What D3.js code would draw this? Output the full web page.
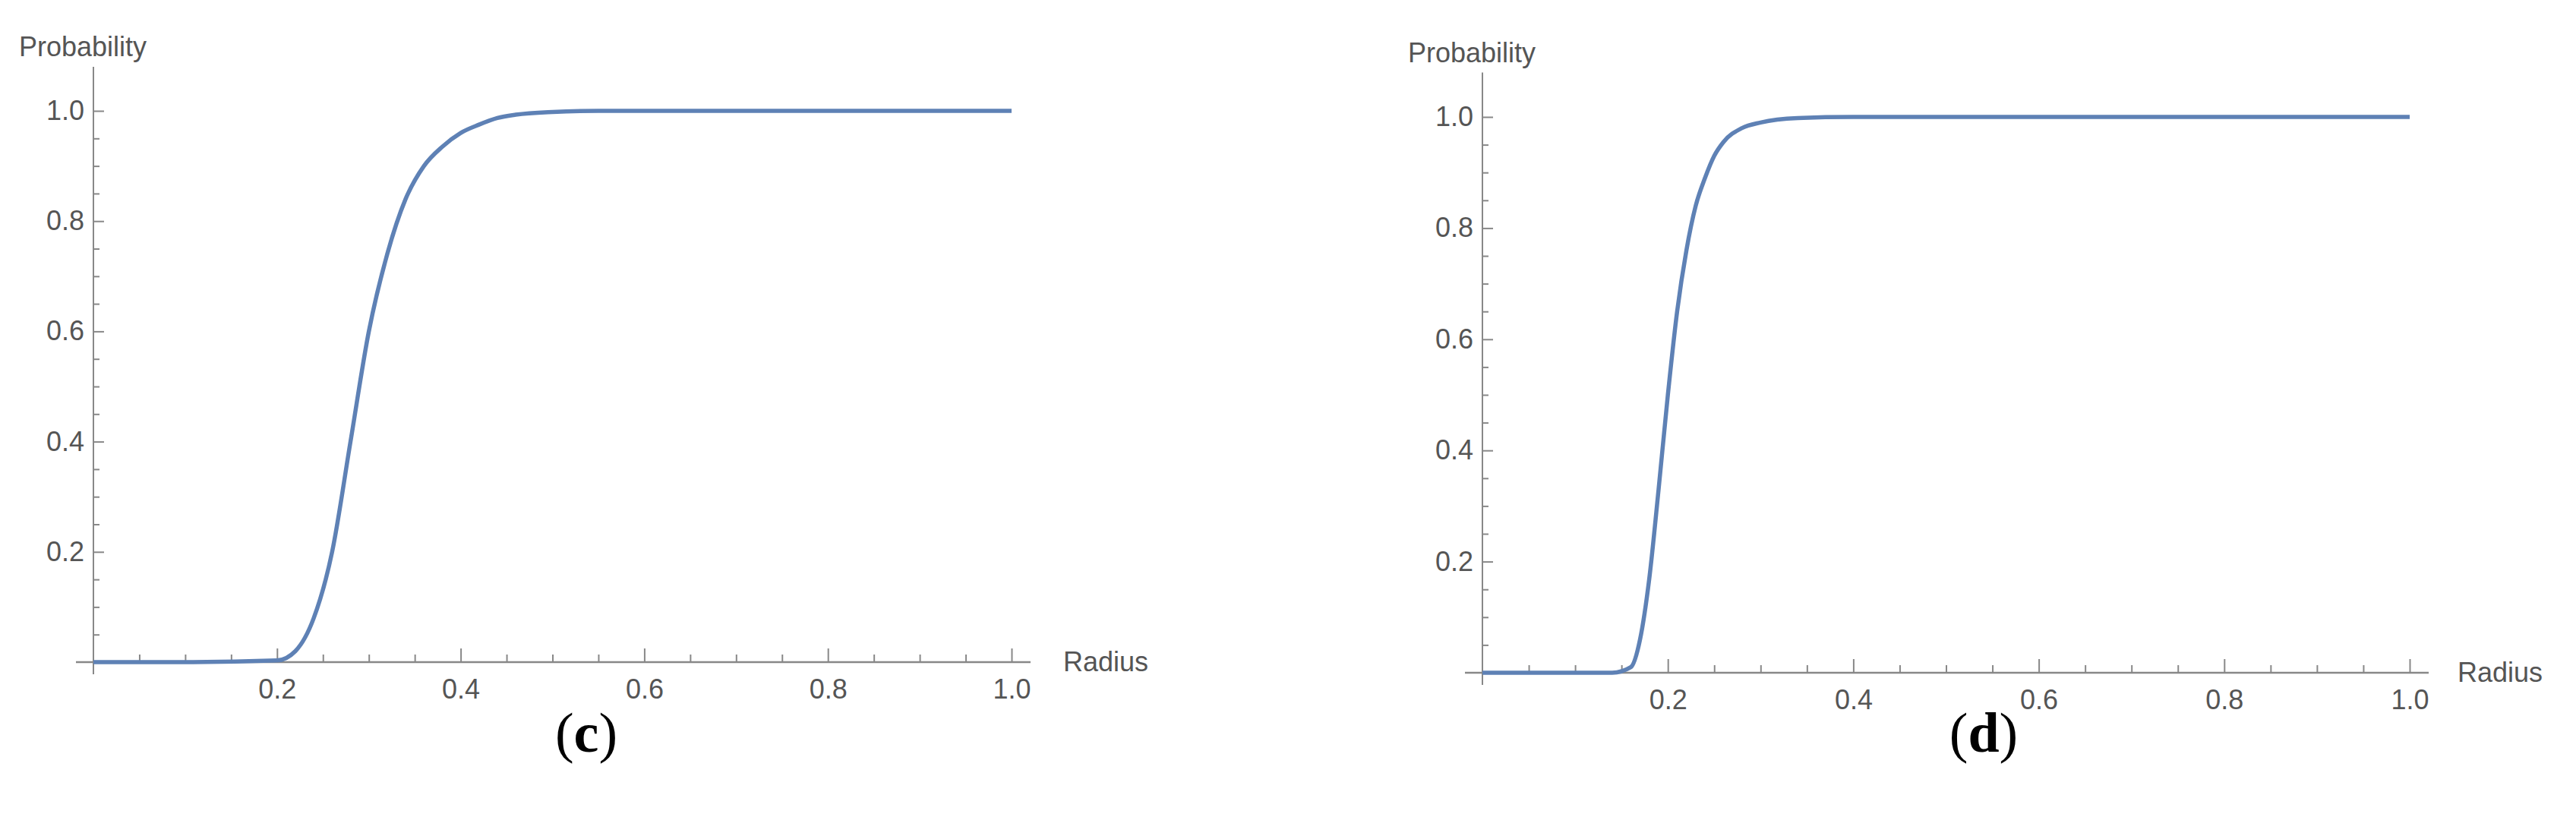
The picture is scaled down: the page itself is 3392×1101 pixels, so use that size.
<!DOCTYPE html>
<html>
<head>
<meta charset="utf-8">
<script src="https://cdn.jsdelivr.net/npm/d3@7"></script>
<style>
  body { margin: 0; background: #fff; }
  .tick text { font-family: "Liberation Sans", Arial, sans-serif; fill: #555; }
</style>
</head>
<body>
<div id="chart"></div>
<script>
// curve (c)
var radiusC = [0, 0.1, 0.2, 0.22, 0.24, 0.26, 0.28, 0.30, 0.32, 0.34, 0.36, 0.38, 0.40, 0.42, 0.44, 0.46, 0.50, 0.55, 0.6, 0.8, 1.0];
var probC   = [0, 0, 0.003, 0.02, 0.08, 0.2, 0.4, 0.6, 0.74, 0.84, 0.9, 0.935, 0.96, 0.975, 0.987, 0.993, 0.998, 1, 1, 1, 1];
// curve (d)
var radiusD = [0, 0.1, 0.14, 0.16, 0.17, 0.18, 0.19, 0.20, 0.21, 0.22, 0.23, 0.24, 0.25, 0.26, 0.28, 0.30, 0.34, 0.4, 0.6, 0.8, 1.0];
var probD   = [0, 0, 0, 0.01, 0.06, 0.17, 0.33, 0.5, 0.65, 0.76, 0.84, 0.89, 0.93, 0.955, 0.98, 0.99, 0.998, 1, 1, 1, 1];
var majorTicks = [0.2, 0.4, 0.6, 0.8, 1.0];
var panels = [
    {label: "c", r: radiusC, p: probC, x0: 123, x1: 1332, y0: 872, y1: 146, cap: 772, rx: 1400},
    {label: "d", r: radiusD, p: probD, x0: 1952, x1: 3173, y0: 886, y1: 154, cap: 2612, rx: 3236}
];

var svg = d3.select("#chart").append("svg")
        .attr("width", 3392)
        .attr("height", 1101);

panels.forEach(function (pn) {
    var x = d3.scaleLinear().domain([0, 1]).range([pn.x0, pn.x1]);
    var y = d3.scaleLinear().domain([0, 1]).range([pn.y0, pn.y1]);
    var minor = d3.range(1, 21).map(function (i) { return i * 0.05; })
            .filter(function (v) { return Math.abs(v * 5 - Math.round(v * 5)) > 1e-6; });
    var fmt = function (d) { return d3.format(".1f")(d); };

    // minor ticks
    svg.append("g").attr("transform", "translate(0," + pn.y0 + ")")
            .call(d3.axisBottom(x).tickValues(minor).tickSize(-10).tickFormat(""))
            .call(function (g) { g.select(".domain").remove(); });
    svg.append("g").attr("transform", "translate(" + pn.x0 + ",0)")
            .call(d3.axisLeft(y).tickValues(minor).tickSize(-8).tickFormat(""))
            .call(function (g) { g.select(".domain").remove(); });

    // major ticks + labels
    var xa = svg.append("g").attr("transform", "translate(0," + pn.y0 + ")")
            .call(d3.axisBottom(x).tickValues(majorTicks).tickSize(-18).tickPadding(22).tickFormat(fmt));
    xa.selectAll("text").attr("font-size", 36);
    xa.select(".domain").remove();
    var ya = svg.append("g").attr("transform", "translate(" + pn.x0 + ",0)")
            .call(d3.axisLeft(y).tickValues(majorTicks).tickSize(-14).tickPadding(12).tickFormat(fmt));
    ya.selectAll("text").attr("font-size", 36);
    ya.select(".domain").remove();
    svg.selectAll(".tick line").attr("stroke", "#888").attr("stroke-width", 2);

    // axis lines
    svg.append("line").attr("x1", pn.x0 - 23).attr("x2", pn.x1 + 25)
            .attr("y1", pn.y0).attr("y2", pn.y0)
            .attr("stroke", "#888").attr("stroke-width", 2.5);
    svg.append("line").attr("x1", pn.x0).attr("x2", pn.x0)
            .attr("y1", y(1.08)).attr("y2", pn.y0 + 16)
            .attr("stroke", "#888").attr("stroke-width", 2);

    // axis titles
    svg.append("text").attr("x", pn.x0 - 98).attr("y", y(1) - 72)
            .attr("font-family", "Liberation Sans, Arial, sans-serif")
            .attr("font-size", 36).attr("fill", "#555")
            .text("Probability");
    svg.append("text").attr("x", pn.rx).attr("y", pn.y0 + 12)
            .attr("font-family", "Liberation Sans, Arial, sans-serif")
            .attr("font-size", 36).attr("fill", "#555")
            .text("Radius");

    // curve
    var pts = pn.r.map(function (r, i) { return [r, pn.p[i]]; });
    svg.append("path").datum(pts)
            .attr("fill", "none")
            .attr("stroke", "#5e81b5")
            .attr("stroke-width", 5.5)
            .attr("d", d3.line()
                    .x(function (d) { return x(d[0]); })
                    .y(function (d) { return y(d[1]); })
                    .curve(d3.curveMonotoneX));

    // caption
    var cap = svg.append("text").attr("x", pn.cap).attr("y", 990)
            .attr("text-anchor", "middle")
            .attr("font-family", "Liberation Serif, Times New Roman, serif")
            .attr("font-size", 74).attr("fill", "#000");
    cap.append("tspan").text("(");
    cap.append("tspan").attr("font-weight", "bold").text(pn.label);
    cap.append("tspan").text(")");
});
</script>
</body>
</html>
